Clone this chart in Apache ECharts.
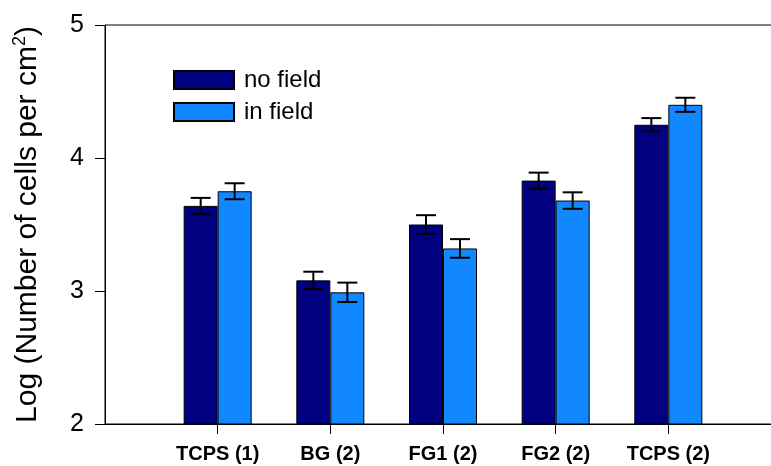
<!DOCTYPE html>
<html>
<head>
<meta charset="utf-8">
<script src="https://cdn.jsdelivr.net/npm/echarts@6/dist/echarts.min.js"></script>
<style>
  html, body { margin: 0; padding: 0; background: #fff; }
  #chart { width: 771px; height: 466px; }
</style>
</head>
<body>
<div id="chart"></div>
<script>
// Cell counts (log scale) per surface, with and without the applied field
const categories = ['TCPS (1)', 'BG (2)', 'FG1 (2)', 'FG2 (2)', 'TCPS (2)'];
const noField = [3.64, 3.08, 3.50, 3.83, 4.25];
const noFieldErr = [0.06, 0.065, 0.07, 0.06, 0.05];
const inField = [3.75, 2.99, 3.32, 3.68, 4.40];
const inFieldErr = [0.06, 0.073, 0.07, 0.062, 0.053];
const yTicks = [2, 3, 4, 5];

const BAR_W = 34;
const FONT = "'Liberation Sans', Arial, sans-serif";
const positions = categories.map((_, i) => i + 1);

function barData(vals) {
  return vals.map((v, i) => [positions[i], v]);
}
function errData(vals, errs) {
  return vals.map((v, i) => [positions[i], v, errs[i]]);
}
function errorBars(side) {
  return function (params, api) {
    const x = api.value(0), y = api.value(1), e = api.value(2);
    const c = api.coord([x, y]);
    const cx = c[0] + side * BAR_W / 2;
    const top = api.coord([x, y + e])[1];
    const bot = api.coord([x, y - e])[1];
    const half = 10;
    const style = { stroke: '#000', lineWidth: 2 };
    return {
      type: 'group',
      children: [
        { type: 'line', shape: { x1: cx, y1: top, x2: cx, y2: bot }, style },
        { type: 'line', shape: { x1: cx - half, y1: top, x2: cx + half, y2: top }, style },
        { type: 'line', shape: { x1: cx - half, y1: bot, x2: cx + half, y2: bot }, style }
      ]
    };
  };
}

const chart = echarts.init(document.getElementById('chart'), null, { renderer: 'canvas' });
chart.setOption({
  animation: false,
  backgroundColor: '#fff',
  textStyle: { fontFamily: FONT },
  grid: {
    left: 105, top: 25, bottom: 42, right: -10,
    outerBoundsMode: 'none',
    containLabel: false,
    show: true, borderColor: '#000', borderWidth: 1
  },
  legend: {
    orient: 'vertical',
    left: 168, top: 63,
    itemWidth: 60, itemHeight: 18, itemGap: 8,
    icon: 'rect',
    textStyle: { fontSize: 24, color: '#000', fontFamily: FONT, padding: [0, 0, 0, 5] },
    data: ['no field', 'in field']
  },
  xAxis: {
    type: 'value',
    min: 0, max: 6, interval: 1,
    splitLine: { show: false },
    axisLine: { lineStyle: { color: '#000', width: 1 } },
    axisTick: {
      show: true, length: 10, inside: false,
      customValues: positions,
      lineStyle: { color: '#000', width: 1 }
    },
    axisLabel: {
      customValues: positions,
      formatter: v => categories[v - 1] || '',
      fontSize: 20, fontWeight: 'bold', color: '#000', fontFamily: FONT,
      margin: 20
    }
  },
  yAxis: {
    type: 'value',
    min: yTicks[0], max: yTicks[yTicks.length - 1], interval: 1,
    splitLine: { show: false },
    axisLine: { show: true, lineStyle: { color: '#000', width: 1 } },
    axisTick: { show: true, length: 10, inside: false, lineStyle: { color: '#000', width: 1 } },
    axisLabel: { fontSize: 25, color: '#000', margin: 21, fontFamily: FONT },
    name: '{a|Log (Number of cells per cm}{s|2}{a|)}',
    nameLocation: 'middle',
    nameRotate: 90,
    nameGap: 60,
    nameTextStyle: {
      rich: {
        a: { fontSize: 30, color: '#000', fontFamily: FONT, lineHeight: 34 },
        s: { fontSize: 18, color: '#000', fontFamily: FONT, verticalAlign: 'top', lineHeight: 18 }
      }
    }
  },
  series: [
    {
      name: 'no field', type: 'bar',
      barWidth: BAR_W, barGap: '0%',
      data: barData(noField),
      itemStyle: { color: '#000080', borderColor: '#000', borderWidth: 1 }
    },
    {
      name: 'in field', type: 'bar',
      barWidth: BAR_W, barGap: '0%',
      data: barData(inField),
      itemStyle: { color: '#1188ff', borderColor: '#000', borderWidth: 1 }
    },
    {
      name: 'no field err', type: 'custom',
      renderItem: errorBars(-1),
      data: errData(noField, noFieldErr),
      encode: { x: 0, y: 1 },
      z: 5
    },
    {
      name: 'in field err', type: 'custom',
      renderItem: errorBars(1),
      data: errData(inField, inFieldErr),
      encode: { x: 0, y: 1 },
      z: 5
    }
  ]
});
</script>
</body>
</html>
